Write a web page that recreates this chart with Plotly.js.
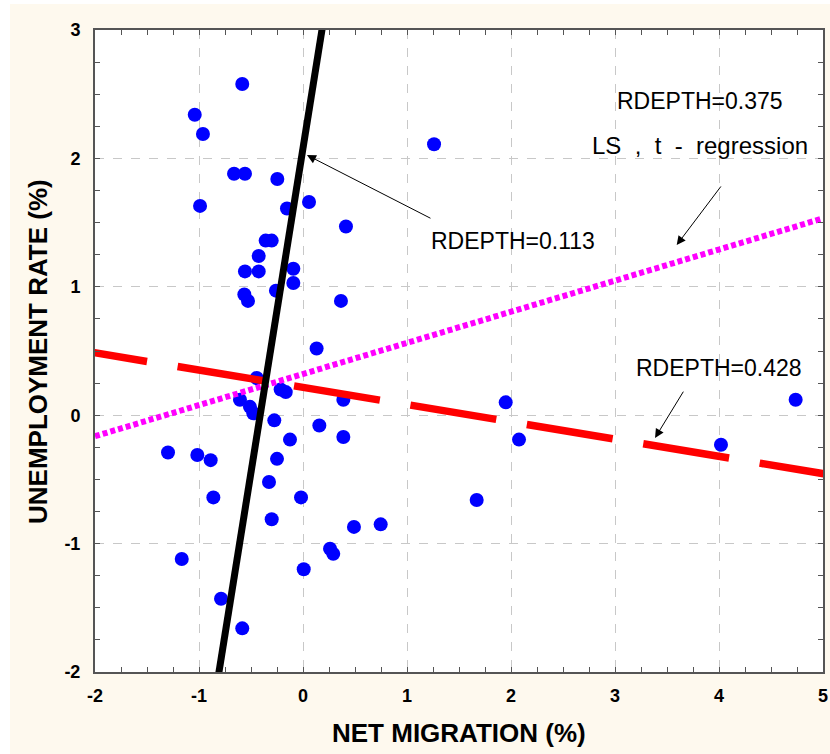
<!DOCTYPE html>
<html>
<head>
<meta charset="utf-8">
<script src="https://cdn.plot.ly/plotly-3.0.1.min.js"></script>
<style>html,body{margin:0;padding:0;background:#fff;}#chart{width:830px;height:754px;}</style>
</head>
<body>
<div id="chart"></div>
<script>
// Scatter data: net migration (%) vs unemployment rate (%)
const netMigration = [
  -0.584, -1.041, -0.962, -0.663, -0.558, -0.247, -0.990, -0.154, 0.058, 0.413,
  -0.359, -0.301, -0.426, -0.558, -0.426, -0.093, -0.093, -0.260, -0.564, -0.529,
  0.365, 0.131, -0.445, -0.215, -0.166, -0.606, 0.388, -0.510, -0.478, -0.276,
  0.157, 0.388, -0.125, -1.298, -1.016, -0.888, -0.250, -0.327, -0.862, -0.019,
  -0.301, 0.490, 0.747, 0.260, 0.291, -1.166, 0.007, -0.788, -0.584,
  1.260, 1.949, 2.077, 1.670, 4.019, 4.737
];
const unemployment = [
  2.58, 2.34, 2.19, 1.88, 1.88, 1.84, 1.63, 1.61, 1.66, 1.47,
  1.36, 1.36, 1.24, 1.12, 1.12, 1.14, 1.03, 0.97, 0.94, 0.89,
  0.89, 0.52, 0.29, 0.20, 0.18, 0.12, 0.12, 0.065, 0.015, -0.04,
  -0.08, -0.17, -0.19, -0.29, -0.31, -0.35, -0.34, -0.52, -0.64, -0.64,
  -0.81, -0.87, -0.85, -1.04, -1.08, -1.12, -1.20, -1.43, -1.66,
  2.11, 0.10, -0.19, -0.66, -0.23, 0.12
];

// Fitted regression lines: [intercept, slope] and x extents
const fitLabels = ["RDEPTH=0.113", "RDEPTH=0.375", "RDEPTH=0.428"];
const fitIntercepts = [2.08, 0.321, 0.217];
const fitSlopes = [5.05, 0.2424, -0.1344];
const fitXStart = [-1.0, -2.0, -2.325];
const fitXEnd = [0.5, 5.0, 5.5];

const xTickVals = [-2, -1, 0, 1, 2, 3, 4, 5];
const yTickVals = [-2, -1, 0, 1, 2, 3];

function fitLine(i) {
  const xs = [fitXStart[i], fitXEnd[i]];
  return {x: xs, y: xs.map(v => fitIntercepts[i] + fitSlopes[i] * v)};
}

const black = fitLine(0), magenta = fitLine(1), red = fitLine(2);

const traces = [
  {type: 'scatter', mode: 'markers', x: netMigration, y: unemployment,
   marker: {color: '#0000ff', size: 14, line: {width: 0}}, cliponaxis: true, hoverinfo: 'x+y'},
  {type: 'scatter', mode: 'lines', x: magenta.x, y: magenta.y,
   line: {color: '#ff00ff', width: 6, dash: '5px,3px'}, name: fitLabels[1]},
  {type: 'scatter', mode: 'lines', x: red.x, y: red.y,
   line: {color: '#ff0000', width: 7.5, dash: '87px,31px'}, name: fitLabels[2]},
  {type: 'scatter', mode: 'lines', x: black.x, y: black.y,
   line: {color: '#000000', width: 7}, name: fitLabels[0]}
];

function axis(range, vals, standoff) {
  return {
    range: range, tickmode: 'array', tickvals: vals, ticktext: vals.map(v => '<b>' + v + '</b>'),
    tickfont: {family: 'Liberation Sans, Arial, sans-serif', size: 18, color: '#000000'},
    ticklabelstandoff: standoff,
    showgrid: true, gridcolor: '#c8c8c8', griddash: 'dash', gridwidth: 1,
    zeroline: false, showline: true, linecolor: '#555555', linewidth: 2,
    mirror: 'allticks', ticks: 'inside', ticklen: 5, tickwidth: 1, tickcolor: '#555555',
    minor: {ticks: 'inside', ticklen: 5, tickwidth: 1, tickcolor: '#555555', dtick: 0.25, showgrid: false},
    fixedrange: true
  };
}

const annFont = {family: 'Liberation Sans, Arial, sans-serif', size: 23, color: '#000'};
const titleFont = {family: 'Liberation Sans, Arial, sans-serif', size: 26, color: '#000', weight: 'bold'};

const layout = {
  width: 830, height: 754,
  margin: {l: 95, r: 7, t: 30, b: 82, pad: 0},
  font: {family: 'Liberation Sans, Arial, sans-serif', size: 18, color: '#000000'},
  paper_bgcolor: '#fef9ee', plot_bgcolor: '#ffffff',
  showlegend: false,
  xaxis: axis([-2, 5], xTickVals, 6),
  yaxis: axis([-2, 3], yTickVals, 9),
  shapes: [
    {type: 'rect', xref: 'paper', yref: 'paper', x0: -0.2, x1: -0.1168, y0: -0.2, y1: 1.1, fillcolor: '#ffffff', line: {width: 0}, layer: 'below'},
    {type: 'rect', xref: 'paper', yref: 'paper', x0: -0.2, x1: 1.1, y0: 1.0405, y1: 1.1, fillcolor: '#ffffff', line: {width: 0}, layer: 'below'}
  ],
  annotations: [
    {xref: 'paper', yref: 'paper', x: 0.5, y: -0.095, text: 'NET MIGRATION (%)', showarrow: false,
     font: titleFont, xanchor: 'center', yanchor: 'middle'},
    {xref: 'paper', yref: 'paper', x: -0.0783, y: 0.5, text: 'UNEMPLOYMENT RATE (%)', showarrow: false,
     font: titleFont, textangle: -90, xanchor: 'center', yanchor: 'middle'},
    {x: 3.817, y: 2.45, text: fitLabels[1], showarrow: false, font: annFont, xanchor: 'center', yanchor: 'middle'},
    {x: 3.817, y: 2.097, text: 'LS  ,  t  -  regression', showarrow: false, font: Object.assign({}, annFont, {size: 24}), xanchor: 'center', yanchor: 'middle'},
    {x: 2.019, y: 1.36, text: fitLabels[0], showarrow: false, font: annFont, xanchor: 'center', yanchor: 'middle'},
    {x: 4.0, y: 0.366, text: fitLabels[2], showarrow: false, font: annFont, xanchor: 'center', yanchor: 'middle'},
    {x: 0.038, y: 2.026, ax: 1.24, ay: 1.528, axref: 'x', ayref: 'y', text: '', showarrow: true,
     arrowhead: 2, arrowsize: 1.8, arrowwidth: 1, arrowcolor: '#000'},
    {x: 3.593, y: 1.325, ax: 4.029, ay: 1.793, axref: 'x', ayref: 'y', text: '', showarrow: true,
     arrowhead: 2, arrowsize: 1.8, arrowwidth: 1, arrowcolor: '#000'},
    {x: 3.385, y: -0.177, ax: 3.666, ay: 0.195, axref: 'x', ayref: 'y', text: '', showarrow: true,
     arrowhead: 2, arrowsize: 1.8, arrowwidth: 1, arrowcolor: '#000'}
  ]
};

Plotly.newPlot('chart', traces, layout, {staticPlot: true, displayModeBar: false});
</script>
</body>
</html>
